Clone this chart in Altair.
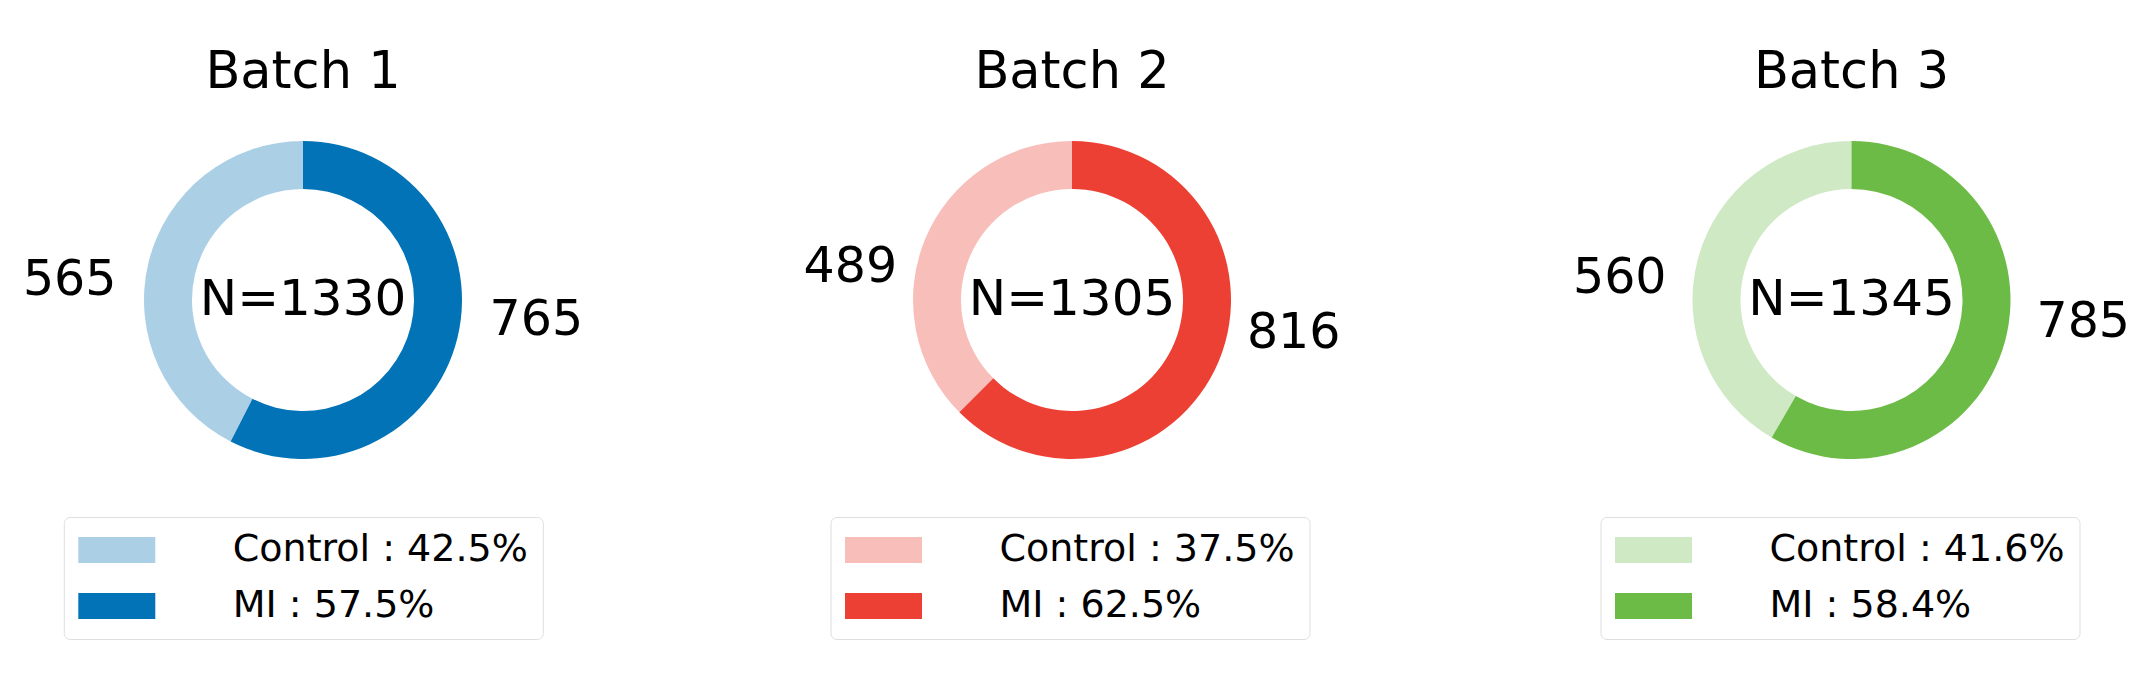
import altair as alt
import pandas as pd

# ---- data ----
batches = ["Batch 1", "Batch 2", "Batch 3"]
groups = ["Control", "MI"]
control_counts = [565, 489, 560]
mi_counts = [765, 816, 785]
light_colors = ["#abd0e6", "#f8beba", "#cee9c4"]
dark_colors = ["#0173b6", "#ec4034", "#6cbb46"]

# ---- layout / style ----
FONT = "DejaVu Sans"
panel_widths = [540, 498, 561]
legend_x = [30.8, 7.5, 29.5]
PANEL_H = 264
SWATCH = "M-2.9615,-1L2.9615,-1L2.9615,1L-2.9615,1Z"


def panel(i):
    counts = [control_counts[i], mi_counts[i]]
    total = sum(counts)
    df = pd.DataFrame({
        "group": groups,
        "count": counts,
        "legend": [f"{g} : {c / total * 100:.1f}%" for g, c in zip(groups, counts)],
    })
    base = alt.Chart(df).transform_calculate(ord="datum.group == 'MI' ? 0 : 1")

    arcs = base.mark_arc(radius=159, radius2=111).encode(
        theta=alt.Theta("count:Q", stack=True),
        order=alt.Order("ord:Q"),
        color=alt.Color(
            "legend:N",
            scale=alt.Scale(domain=list(df["legend"]),
                            range=[light_colors[i], dark_colors[i]]),
            legend=alt.Legend(
                title=None,
                orient="none",
                legendX=legend_x[i],
                legendY=349,
                direction="vertical",
                symbolType=SWATCH,
                symbolSize=676,
                symbolStrokeWidth=0,
                symbolOffset=20,
                symbolOpacity=1,
                labelFont=FONT,
                labelFontSize=38,
                labelColor="black",
                labelOffset=97,
                labelLimit=800,
                rowPadding=18,
                padding=14,
                strokeColor="#dedede",
                fillColor="white",
                cornerRadius=6,
            ),
        ),
    )

    labels = base.transform_joinaggregate(total="sum(count)").transform_window(
        cum="sum(count)", sort=[alt.SortField("ord", order="ascending")], frame=[None, 0]
    ).transform_calculate(
        mid="2 * PI * (datum.cum - datum.count / 2) / datum.total"
    ).transform_calculate(
        lx="240 * sin(datum.mid)", ly="-86 * cos(datum.mid)"
    ).transform_calculate(
        lt="atan2(datum.lx, -datum.ly)",
        lr="sqrt(datum.lx * datum.lx + datum.ly * datum.ly)",
        txt="'' + datum.count",
    ).mark_text(font=FONT, fontSize=49, color="black", align="center",
                baseline="middle").encode(
        theta=alt.Theta("lt:Q", scale=None),
        radius=alt.Radius("lr:Q", scale=None),
        text="txt:N",
    )

    center = base.transform_aggregate(total="sum(count)").transform_calculate(
        txt="'N=' + datum.total"
    ).mark_text(font=FONT, fontSize=50, color="black", align="center",
                baseline="middle").encode(text="txt:N")

    return alt.layer(arcs, labels, center).resolve_scale(
        theta="independent"
    ).properties(
        width=panel_widths[i],
        height=PANEL_H,
        title=alt.TitleParams(
            text=batches[i], fontSize=51, font=FONT, fontWeight="normal",
            color="black", anchor="middle", baseline="alphabetic",
            offset=2, frame="group",
        ),
    )


chart = alt.hconcat(*[panel(i) for i in range(3)], spacing=250).resolve_scale(
    color="independent", theta="independent"
).properties(
    bounds="flush",
    padding={"left": 14, "top": 39, "right": 0, "bottom": 0},
).configure(font=FONT).configure_view(stroke="transparent")

chart.save("out.html", embed_options={"renderer": "svg", "actions": False})
